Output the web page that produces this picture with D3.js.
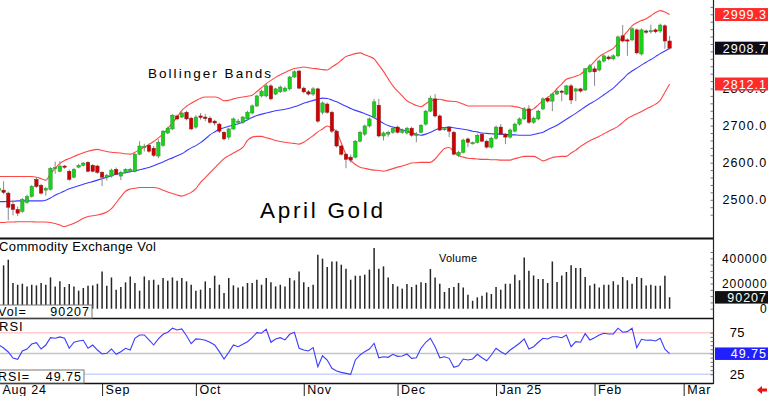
<!DOCTYPE html>
<html><head><meta charset="utf-8">
<script src="https://cdn.jsdelivr.net/npm/d3@7"></script>
<style>
html,body{margin:0;padding:0;background:#fff;}
svg{display:block;}
text{font-family:"Liberation Sans",Arial,sans-serif;fill:#000;}
</style></head><body>
<svg id="c" width="768" height="396"></svg>
<script>
// ---- data (bar 0 = Aug 1 2024, bar 143 = Feb 26 2025) ----
const opens = [
2525,2526,2518,2488,2474,2469,2493,2509,2555,2539,
2526,2528,2585,2577,2591,2577,2561,2588,2593,2601,
2593,2591,2574,2561,2564,2582,2564,2574,2577,2577,
2623,2643,2647,2639,2618,2647,2680,2691,2726,2723,
2736,2720,2696,2726,2723,2720,2712,2704,2682,2669,
2691,2709,2709,2718,2734,2753,2780,2780,2807,2785,
2791,2793,2799,2831,2847,2801,2791,2785,2799,2736,
2758,2736,2685,2645,2623,2615,2615,2658,2677,2699,
2723,2755,2672,2677,2682,2696,2682,2680,2693,2674,
2682,2704,2739,2772,2726,2690,2696,2682,2620,2628,
2664,2652,2655,2677,2658,2642,2666,2696,2677,2669,
2685,2704,2718,2745,2709,2718,2745,2774,2766,2785,
2793,2785,2807,2793,2799,2796,2845,2853,2850,2874,
2885,2880,2888,2942,2931,2931,2958,2893,2955,2953,
2958,2955,2969,2928];
const closes = [
2531,2520,2480,2474,2464,2501,2509,2536,2536,2518,
2531,2585,2587,2591,2588,2555,2582,2593,2599,2577,
2577,2574,2561,2566,2580,2569,2574,2582,2582,2623,
2645,2644,2631,2620,2655,2685,2693,2728,2718,2734,
2718,2691,2723,2722,2719,2709,2707,2685,2664,2691,
2718,2712,2723,2736,2753,2780,2793,2807,2772,2799,
2804,2801,2831,2845,2801,2791,2785,2799,2712,2761,
2736,2685,2645,2623,2609,2607,2658,2682,2699,2718,
2764,2672,2680,2682,2693,2682,2688,2693,2674,2677,
2701,2739,2774,2726,2688,2692,2685,2623,2628,2661,
2655,2654,2674,2658,2642,2666,2696,2677,2669,2688,
2704,2718,2745,2709,2720,2739,2772,2766,2785,2793,
2791,2807,2769,2799,2793,2853,2861,2845,2874,2888,
2880,2888,2939,2928,2928,2961,2896,2958,2953,2956,
2953,2971,2928,2908.7];
const highs = [
2540,2550,2522,2500,2482,2505,2514,2540,2560,2543,
2535,2588,2603,2604,2594,2581,2586,2597,2602,2604,
2596,2594,2577,2570,2584,2587,2578,2585,2586,2626,
2658,2651,2652,2645,2663,2688,2697,2731,2730,2738,
2740,2724,2728,2734,2731,2725,2716,2708,2685,2694,
2722,2718,2726,2740,2757,2783,2797,2812,2812,2802,
2808,2806,2834,2849,2850,2805,2796,2804,2802,2765,
2762,2740,2689,2649,2626,2622,2661,2686,2703,2722,
2772,2772,2684,2686,2697,2700,2692,2697,2697,2683,
2704,2742,2781,2785,2730,2696,2699,2686,2632,2665,
2668,2657,2678,2681,2662,2670,2700,2704,2680,2692,
2708,2722,2750,2755,2724,2743,2776,2778,2789,2797,
2796,2810,2812,2802,2802,2856,2866,2860,2878,2892,
2889,2892,2943,2971,2935,2965,2962,2962,2959,2972,
2962,2975,2973,2942];
const lows = [
2520,2515,2445,2458,2456,2465,2489,2506,2532,2514,
2511,2525,2570,2574,2584,2551,2558,2585,2590,2574,
2574,2570,2537,2552,2560,2566,2553,2571,2574,2574,
2620,2630,2627,2615,2612,2643,2677,2688,2714,2720,
2714,2688,2692,2716,2712,2705,2700,2680,2660,2662,
2688,2703,2705,2714,2730,2750,2776,2776,2768,2782,
2788,2790,2795,2828,2798,2787,2781,2780,2708,2730,
2732,2680,2641,2619,2585,2600,2612,2655,2672,2695,
2720,2668,2660,2670,2678,2679,2678,2676,2670,2655,
2679,2700,2736,2722,2685,2686,2669,2620,2615,2625,
2642,2649,2652,2655,2638,2638,2662,2674,2650,2665,
2682,2700,2715,2705,2705,2714,2742,2762,2739,2782,
2766,2782,2758,2766,2789,2793,2842,2807,2846,2870,
2876,2876,2884,2924,2888,2927,2892,2889,2947,2948,
2949,2950,2907,2905];
const volumes = [
300000,344000,389000,204000,190000,198000,177000,190000,185000,204000,
190000,248000,177000,217000,172000,196000,177000,143000,164000,183000,
185000,198000,296000,183000,248000,151000,172000,209000,256000,204000,
143000,256000,225000,230000,190000,244000,222000,248000,222000,244000,
217000,190000,143000,151000,217000,164000,262000,190000,125000,244000,
185000,169000,177000,204000,204000,230000,190000,244000,209000,177000,
190000,177000,244000,225000,296000,209000,172000,190000,429000,397000,
331000,375000,375000,349000,317000,230000,262000,262000,270000,310000,
482000,317000,336000,248000,196000,177000,159000,196000,172000,190000,
209000,204000,315000,248000,198000,133000,164000,172000,204000,169000,
111000,63000,90000,103000,129000,117000,172000,151000,198000,198000,
270000,225000,407000,302000,264000,236000,236000,204000,375000,212000,
264000,291000,344000,323000,323000,252000,185000,198000,169000,190000,
190000,217000,190000,252000,225000,198000,252000,244000,185000,190000,
183000,183000,262000,90207];
const rsiValues = [
60.2,56.6,51.8,44.6,43,53,55.4,61.4,63,55.4,
60.2,69,68.3,69.9,68.3,56.3,63.5,65.1,65.9,56.3,
60.2,54.2,49.4,50.2,55.4,49,52.2,56.3,54.2,68.3,
72.3,72.3,66.3,60.2,67.5,73.1,75.5,80.4,78.3,79.5,
71.4,61.8,67.5,67.1,65.9,63.5,60.2,52.2,43.4,51.4,
60.2,58.2,61.1,64.2,69,75.1,74.3,79.2,63.5,67.5,
69,66.3,73.1,75.5,56.3,54.2,53,57,34.1,47.3,
42.2,32.2,28.9,27.3,26.1,24.9,42.2,48.2,52.2,55.4,
62.3,44.9,46.1,45.4,49,46.6,47,49.4,44.2,44.9,
56.3,63.5,68.3,58.2,44.9,46.1,44.2,33.4,35.3,43.4,
42.2,43.4,49,44.9,41.3,48.2,56.3,52.2,49,54.2,
58.2,62.3,67.5,55.4,58.2,63.5,68.3,67.5,70.2,70.2,
69,72.3,58.2,64.2,63.5,73.9,66.3,69,72.3,74.3,
73.5,73.5,80.4,75.5,76.3,80.4,57,67.1,65.9,66.3,
65.1,68.3,55.1,49.75];
const bbUpper = [
2563,2563,2563,2563,2563,2563,2563,2563,2561,2557,
2553,2570,2585,2598,2606,2611,2617,2622,2627,2631,
2634,2636,2633,2630,2628,2627,2626,2624,2623,2628,
2635,2642,2649,2657,2667,2677,2692,2707,2723,2741,
2752,2760,2767,2774,2777,2777,2777,2774,2767,2768,
2772,2775,2777,2779,2782,2792,2802,2813,2822,2830,
2837,2843,2849,2854,2856,2858,2856,2854,2853,2851,
2850,2858,2866,2876,2886,2890,2894,2896,2891,2886,
2880,2863,2846,2826,2807,2793,2780,2767,2760,2754,
2751,2759,2766,2770,2771,2768,2766,2765,2763,2758,
2753,2753,2753,2753,2753,2753,2753,2753,2753,2753,
2751,2749,2744,2740,2745,2756,2767,2776,2785,2800,
2812,2825,2829,2833,2838,2849,2860,2873,2886,2894,
2901,2908,2923,2939,2954,2969,2977,2983,2988,2996,
3005,3010,3006,2999.3];
const bbMiddle = [
2495,2495,2496,2496,2497,2497,2497,2497,2497,2497,
2499,2505,2512,2518,2524,2530,2534,2538,2542,2546,
2549,2553,2557,2561,2565,2569,2571,2573,2576,2578,
2581,2584,2587,2592,2597,2602,2608,2613,2619,2624,
2632,2640,2646,2654,2664,2675,2683,2690,2694,2698,
2701,2705,2709,2716,2722,2727,2731,2734,2737,2740,
2742,2744,2747,2751,2755,2760,2764,2768,2771,2774,
2773,2769,2764,2758,2752,2746,2741,2737,2732,2727,
2721,2714,2706,2700,2696,2693,2689,2685,2681,2677,
2674,2677,2682,2688,2693,2695,2696,2694,2692,2690,
2688,2685,2683,2680,2679,2678,2677,2677,2676,2675,
2675,2674,2674,2674,2676,2679,2682,2689,2695,2701,
2709,2717,2725,2733,2742,2751,2759,2766,2774,2783,
2792,2801,2813,2825,2838,2847,2855,2863,2871,2878,
2886,2894,2901,2908.7];
const bbLower = [
2439,2439,2440,2440,2441,2441,2441,2441,2440,2440,
2440,2439,2436,2432,2428,2432,2437,2443,2450,2455,
2457,2459,2462,2467,2476,2492,2508,2523,2529,2531,
2533,2533,2533,2533,2531,2526,2521,2517,2513,2510,
2514,2520,2530,2547,2560,2573,2586,2599,2611,2619,
2626,2633,2641,2660,2669,2671,2671,2667,2664,2660,
2657,2655,2653,2652,2650,2655,2664,2673,2683,2691,
2699,2693,2683,2653,2622,2606,2595,2588,2585,2582,
2580,2579,2577,2580,2584,2588,2591,2595,2599,2600,
2601,2601,2601,2610,2625,2638,2641,2630,2619,2615,
2612,2611,2610,2609,2609,2608,2608,2607,2607,2607,
2611,2614,2617,2617,2617,2612,2605,2609,2614,2616,
2617,2617,2626,2634,2644,2652,2659,2665,2671,2678,
2685,2691,2698,2708,2719,2726,2732,2738,2745,2751,
2758,2768,2790,2812.1];
const monthTickIndex = [0,22,42,65,85,106,127,146];
const monthTickLabels = ["Aug 24","Sep","Oct","Nov","Dec","Jan 25","Feb","Mar"];
const priceTicks = [2500,2600,2700,2800];
const volumeTicks = [0,200000,400000];
const rsiTicks = [25,75];
const rsiLevels = [75,50,25];

// ---- drawing ----
const svg = d3.select("#c");
const AX = 713.5;
const FONT = "Liberation Sans, Arial, sans-serif";
const x = d3.scaleLinear().domain([0,143]).range([-1.1,669.6]);
const yP = d3.scaleLinear().domain([2500,3000]).range([199.8,14.3]);
const yV = d3.scaleLinear().domain([0,400000]).range([308.7,258.3]);
const yR = d3.scaleLinear().domain([25,75]).range([374.3,332.7]);
const idx = d3.range(closes.length);

const defs = svg.append("defs");
defs.append("clipPath").attr("id","cm").append("rect").attr("x",0).attr("y",0).attr("width",AX).attr("height",238);
defs.append("clipPath").attr("id","cv").append("rect").attr("x",0).attr("y",239).attr("width",AX).attr("height",79);
defs.append("clipPath").attr("id","cr").append("rect").attr("x",0).attr("y",319).attr("width",AX).attr("height",64);

// RSI reference levels and line
const gR = svg.append("g").attr("clip-path","url(#cr)");
const lvlColor = {75:"#ffcccc",50:"#c4c4c4",25:"#ccd2ff"};
gR.selectAll("line.lvl").data(rsiLevels).join("line")
  .attr("x1",0).attr("x2",AX).attr("y1",d=>yR(d)).attr("y2",d=>yR(d))
  .attr("stroke",d=>lvlColor[d]).attr("stroke-width",1.6);
gR.append("path").datum(rsiValues)
  .attr("d",d3.line().x((d,i)=>x(i)).y(d=>yR(d)))
  .attr("fill","none").attr("stroke","#3c3cff").attr("stroke-width",1.1);

// main: Bollinger bands
const gM = svg.append("g").attr("clip-path","url(#cm)");
const bandLine = d3.line().x((d,i)=>x(i)).y(d=>yP(d)).curve(d3.curveMonotoneX);
gM.append("path").datum(bbUpper).attr("d",bandLine).attr("fill","none").attr("stroke","#ff4646").attr("stroke-width",1.1);
gM.append("path").datum(bbLower).attr("d",bandLine).attr("fill","none").attr("stroke","#ff4646").attr("stroke-width",1.1);
gM.append("path").datum(bbMiddle).attr("d",bandLine).attr("fill","none").attr("stroke","#3c3cff").attr("stroke-width",1.1);

// candles
const cg = gM.selectAll("g.c").data(idx).join("g");
cg.append("line")
  .attr("x1",i=>x(i)).attr("x2",i=>x(i))
  .attr("y1",i=>yP(highs[i])).attr("y2",i=>yP(lows[i]))
  .attr("stroke","#8a8a8a").attr("stroke-width",1);
cg.append("rect")
  .attr("x",i=>x(i)-1.7).attr("width",3.4)
  .attr("y",i=>yP(Math.max(opens[i],closes[i])))
  .attr("height",i=>Math.max(1.2,Math.abs(yP(opens[i])-yP(closes[i]))))
  .attr("fill",i=>closes[i]>=opens[i]?"#18d418":"#d00000")
  .attr("stroke",i=>closes[i]>=opens[i]?"#2e8a2e":"#7a2020")
  .attr("stroke-width",0.5);

// volume
const gV = svg.append("g").attr("clip-path","url(#cv)");
gV.selectAll("line").data(idx).join("line")
  .attr("x1",i=>x(i)).attr("x2",i=>x(i))
  .attr("y1",yV(0)).attr("y2",i=>yV(volumes[i]))
  .attr("stroke","#262626").attr("stroke-width",1.5);

// panel borders
const borders = [[238.5,2],[318.5,1.6],[383.5,1.6]];
svg.selectAll("line.bd").data(borders).join("line").attr("class","bd")
  .attr("x1",0).attr("x2",AX).attr("y1",d=>d[0]).attr("y2",d=>d[0])
  .attr("stroke","#111").attr("stroke-width",d=>d[1]);
svg.append("line").attr("x1",AX).attr("x2",AX).attr("y1",0).attr("y2",384)
  .attr("stroke","#222").attr("stroke-width",1.2);

// minor (inward) ticks on the right axis
function minorTicks(scale, values, len){
  const g = svg.append("g").attr("transform",`translate(${AX},0)`)
    .call(d3.axisLeft(scale).tickValues(values).tickSize(len).tickFormat(""));
  g.select(".domain").remove();
  g.selectAll("line").attr("stroke","#555").attr("stroke-width",0.8);
}
minorTicks(yP, d3.range(2460, 3040, 20), 3);
minorTicks(yV, d3.range(0, 500000, 50000), 3);
minorTicks(yR, d3.range(25, 80, 5), 3);

// right axes labels
const axP = svg.append("g").attr("transform",`translate(${AX},0)`)
  .call(d3.axisRight(yP).tickValues(priceTicks).tickSize(0).tickPadding(9).tickFormat(d3.format(".1f")));
axP.select(".domain").remove();
axP.selectAll("text").attr("font-size",12.5).attr("letter-spacing",1.1).attr("font-family",FONT).attr("fill","#111");

const axV = svg.append("g").attr("transform",`translate(${AX},0)`)
  .call(d3.axisRight(yV).tickValues(volumeTicks).tickSize(0).tickFormat(d3.format("d")));
axV.select(".domain").remove();
axV.selectAll("text").attr("text-anchor","end").attr("x",767.5-AX).attr("font-size",12).attr("letter-spacing",0.9).attr("font-family",FONT).attr("fill","#111");

const axR = svg.append("g").attr("transform",`translate(${AX},0)`)
  .call(d3.axisRight(yR).tickValues(rsiTicks).tickSize(0));
axR.select(".domain").remove();
axR.selectAll("text").attr("text-anchor","end").attr("x",745-AX).attr("font-size",13).attr("letter-spacing",0.4).attr("font-family",FONT).attr("fill","#111");

// value boxes on the right
function valueBox(yc, label, fill, h){
  svg.append("rect").attr("x",715).attr("y",yc-h/2).attr("width",53).attr("height",h).attr("fill",fill);
  svg.append("text").attr("x",767).attr("y",yc).attr("dy","0.36em").attr("text-anchor","end")
    .attr("font-size",12.5).attr("letter-spacing",1.0).style("fill","#fff").text(label);
}
valueBox(yP(bbUpper[143]), d3.format(".1f")(bbUpper[143]), "#ff2a2a", 13);
valueBox(yP(closes[143]), d3.format(".1f")(closes[143]), "#0c0c18", 13);
valueBox(yP(bbLower[143]), d3.format(".1f")(bbLower[143]), "#ff2a2a", 13);
valueBox(yV(volumes[143]), String(volumes[143]), "#111", 12.5);
valueBox(yR(rsiValues[143]), d3.format(".2f")(rsiValues[143]), "#2020ff", 12.5);

// date axis
const axD = svg.append("g").attr("transform","translate(0,383)")
  .call(d3.axisBottom(x).tickValues(monthTickIndex).tickSize(13).tickFormat((d,i)=>monthTickLabels[i]));
axD.select(".domain").remove();
axD.selectAll("line").attr("stroke","#222").attr("stroke-width",1);
axD.selectAll("text").attr("text-anchor","start").attr("x",3).attr("y",2.5)
  .attr("font-size",12.5).attr("letter-spacing",0.8).attr("font-family",FONT).attr("fill","#000");

// left info boxes
function infoBox(y0, w, name, val){
  svg.append("rect").attr("x",-1).attr("y",y0).attr("width",w+1).attr("height",13).attr("fill","#fff").attr("stroke","#777").attr("stroke-width",1);
  svg.append("text").attr("x",-2).attr("y",y0+11).attr("font-size",12.5).attr("letter-spacing",1).text(name);
  svg.append("text").attr("x",w-2).attr("y",y0+11).attr("text-anchor","end").attr("font-size",12.5).attr("letter-spacing",1).text(val);
}
infoBox(305, 92, "Vol=", String(volumes[143]));
infoBox(370, 84, "RSI=", d3.format(".2f")(rsiValues[143]));

// titles
svg.append("text").attr("x",-1).attr("y",251).attr("font-size",13).attr("textLength",157).attr("lengthAdjust","spacing").text("Commodity Exchange Vol");
svg.append("text").attr("x",439).attr("y",262).attr("font-size",11).attr("textLength",38).attr("lengthAdjust","spacing").text("Volume");
svg.append("text").attr("x",-1).attr("y",330.5).attr("font-size",13).attr("letter-spacing",1).text("RSI");
svg.append("text").attr("x",148).attr("y",78).attr("font-size",13.5).attr("textLength",123).attr("lengthAdjust","spacing").text("Bollinger Bands");
svg.append("text").attr("x",260).attr("y",217.5).attr("font-size",22.5).attr("textLength",123).attr("lengthAdjust","spacing").text("April Gold");

// small red arrow bottom right
svg.append("path").attr("d","M757,390 L762,386 L762,388.5 L767,388.5 L767,391.5 L762,391.5 L762,394 Z").attr("fill","#ee1111");
</script>
</body></html>
